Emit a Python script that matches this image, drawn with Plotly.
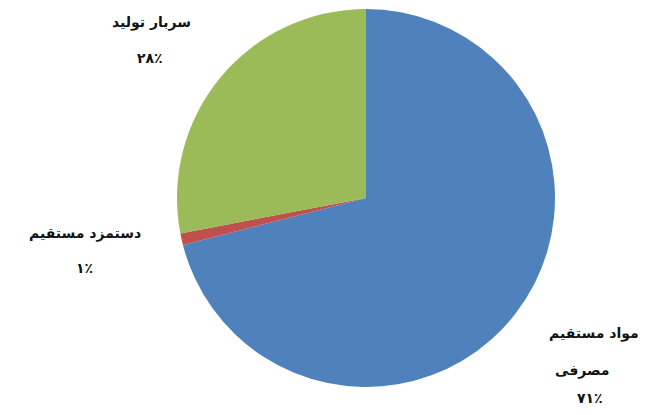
import plotly.graph_objects as go

categories = ["مواد مستقیم مصرفی", "دستمزد مستقیم", "سربار تولید"]
label_lines = [["مواد مستقیم", "مصرفی"], ["دستمزد مستقیم"], ["سربار تولید"]]
values = [71, 1, 28]
percent_labels = ["۷۱٪", "۱٪", "۲۸٪"]

colors = ["#4F81BD", "#C0504D", "#9BBB59"]

W, H = 649, 415
OFF = 8  # default page body margin
# label anchor positions in pixels (list of (x center, y center) per line)
label_pos = [
    [(594, 333), (582, 370), (590, 398)],
    [(85, 233), (84, 268)],
    [(151, 22), (150, 58)],
]
cx, cy, r = 366 - OFF, 198 - OFF, 189

fig = go.Figure(go.Pie(
    labels=categories,
    values=values,
    sort=False,
    direction="clockwise",
    rotation=0,
    marker=dict(colors=colors, line=dict(width=0)),
    textinfo="none",
    hoverinfo="label+percent",
    showlegend=False,
    domain=dict(x=[(cx - r) / W, (cx + r) / W], y=[1 - (cy + r) / H, 1 - (cy - r) / H]),
))

annotations = []
for i, pts in enumerate(label_pos):
    lines = label_lines[i] + [percent_labels[i]]
    for txt, (x, y) in zip(lines, pts):
        annotations.append(dict(
            x=(x - OFF) / W, y=1 - (y - OFF) / H, xref="paper", yref="paper",
            text="<b>" + txt + "</b>", showarrow=False,
            xanchor="center", yanchor="middle",
            font=dict(family="DejaVu Sans", size=14, color="#111111"),
        ))

fig.update_layout(
    width=W, height=H,
    margin=dict(l=0, r=0, t=0, b=0),
    paper_bgcolor="white", plot_bgcolor="white",
    annotations=annotations,
)

fig.write_html("out.html")
